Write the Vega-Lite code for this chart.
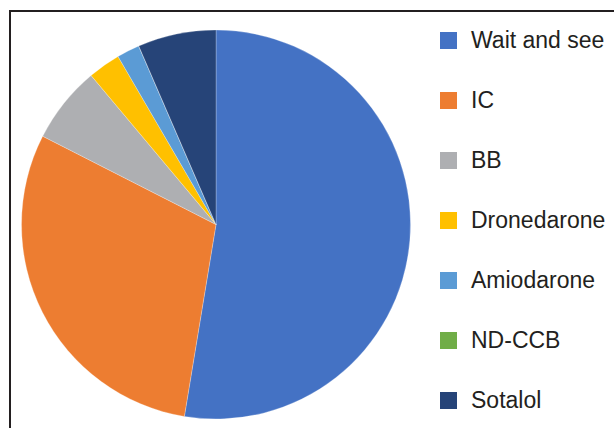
{
  "$schema": "https://vega.github.io/schema/vega-lite/v6.json",
  "width": 620,
  "height": 430,
  "autosize": {"type": "none"},
  "padding": {"left": 10, "top": 11, "right": 0, "bottom": 0},
  "background": "white",
  "view": {"stroke": "#231f20", "strokeWidth": 2, "fill": "white"},
  "config": {
    "font": "Liberation Sans"
  },
  "data": {
    "values": [
      {"treatment": "Wait and see", "pct": 52.6, "idx": 1},
      {"treatment": "IC", "pct": 29.9, "idx": 2},
      {"treatment": "BB", "pct": 6.4, "idx": 3},
      {"treatment": "Dronedarone", "pct": 2.7, "idx": 4},
      {"treatment": "Amiodarone", "pct": 1.9, "idx": 5},
      {"treatment": "ND-CCB", "pct": 0, "idx": 6},
      {"treatment": "Sotalol", "pct": 6.5, "idx": 7}
    ]
  },
  "mark": {"type": "arc", "outerRadius": 194.5, "x": 206, "y": 213.5, "stroke": "white", "strokeWidth": 0.25},
  "encoding": {
    "theta": {"field": "pct", "type": "quantitative", "stack": true},
    "order": {"field": "idx", "type": "quantitative"},
    "color": {
      "field": "treatment",
      "type": "nominal",
      "sort": ["Wait and see", "IC", "BB", "Dronedarone", "Amiodarone", "ND-CCB", "Sotalol"],
      "scale": {
        "domain": ["Wait and see", "IC", "BB", "Dronedarone", "Amiodarone", "ND-CCB", "Sotalol"],
        "range": ["#4472C4", "#ED7D31", "#AEAFB2", "#FFC000", "#5B9BD5", "#70AD47", "#264478"]
      },
      "legend": {
        "orient": "none",
        "legendX": 427,
        "legendY": 18,
        "title": null,
        "padding": 0,
        "symbolType": "square",
        "symbolSize": 289,
        "symbolStrokeWidth": 0,
        "labelFontSize": 23,
        "labelColor": "#231f20",
        "labelOffset": 11,
        "rowPadding": 36,
        "labelLimit": 300
      }
    }
  }
}
